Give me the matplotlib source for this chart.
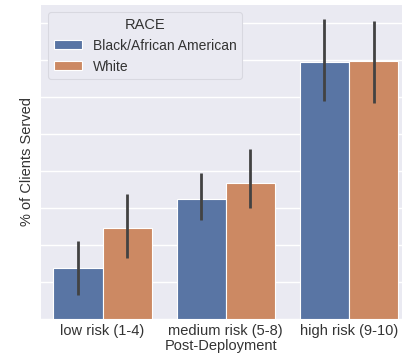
import matplotlib
matplotlib.use("Agg")
import matplotlib.pyplot as plt
import numpy as np

categories = ["low risk (1-4)", "medium risk (5-8)", "high risk (9-10)"]
races = ["Black/African American", "White"]
black_vals = [6.85, 16.25, 34.75]
white_vals = [12.35, 18.45, 34.85]
black_lo = [3.25, 13.4, 29.5]
black_hi = [10.5, 19.75, 40.5]
white_lo = [8.3, 14.95, 29.25]
white_hi = [16.85, 22.95, 40.25]

plt.rcParams['font.family'] = ['Liberation Sans', 'DejaVu Sans']

fig = plt.figure(figsize=(4.03, 3.6), dpi=100)
ax = fig.add_axes([41/403, 1 - 319/360, (402-41)/403, (319-5)/360])
ax.set_facecolor("#EAEAF2")
for s in ax.spines.values():
    s.set_visible(False)

colors = ["#5975A4", "#CC8963"]
x = np.arange(len(categories))
w = 0.4
for i, (vals, lo, hi) in enumerate([(black_vals, black_lo, black_hi),
                                   (white_vals, white_lo, white_hi)]):
    pos = x - w/2 + i*w
    ax.bar(pos, vals, width=w, color=colors[i], edgecolor="white",
           linewidth=0.8, label=races[i], zorder=2)
    for p, l, h in zip(pos, lo, hi):
        ax.plot([p, p], [l, h], color="#424242", lw=2.0, zorder=3,
                solid_capstyle="butt")

txt = "#333333"
ax.set_xlim(-0.5, 2.43)
ax.set_ylim(0, 42.45)
ax.set_yticks(np.arange(0, 42, 5))
ax.set_yticklabels([])
ax.tick_params(axis="both", length=0)
ax.grid(axis="y", color="white", lw=1.0, zorder=0)
ax.set_axisbelow(True)
ax.set_xticks(x)
ax.set_xticklabels(categories, fontsize=10.5, color=txt)
ax.set_xlabel("Post-Deployment", fontsize=10.5, color=txt, labelpad=1)
ax.set_ylabel("% of Clients Served", fontsize=10.5, color=txt)
ax.yaxis.set_label_coords(-0.019, 0.5)

leg = ax.legend(title="RACE", loc="upper left", fontsize=10,
                title_fontsize=10.5, frameon=True, facecolor="#EAEAF2",
                edgecolor="#D8D8E0", framealpha=1,
                bbox_to_anchor=(0.005, 0.995), borderaxespad=0.4,
                handlelength=2.0, handleheight=0.6)
leg.get_frame().set_linewidth(0.8)
plt.setp(leg.get_texts(), color=txt)
leg.get_title().set_color(txt)

fig.savefig("out.png", dpi=100, facecolor="white")
